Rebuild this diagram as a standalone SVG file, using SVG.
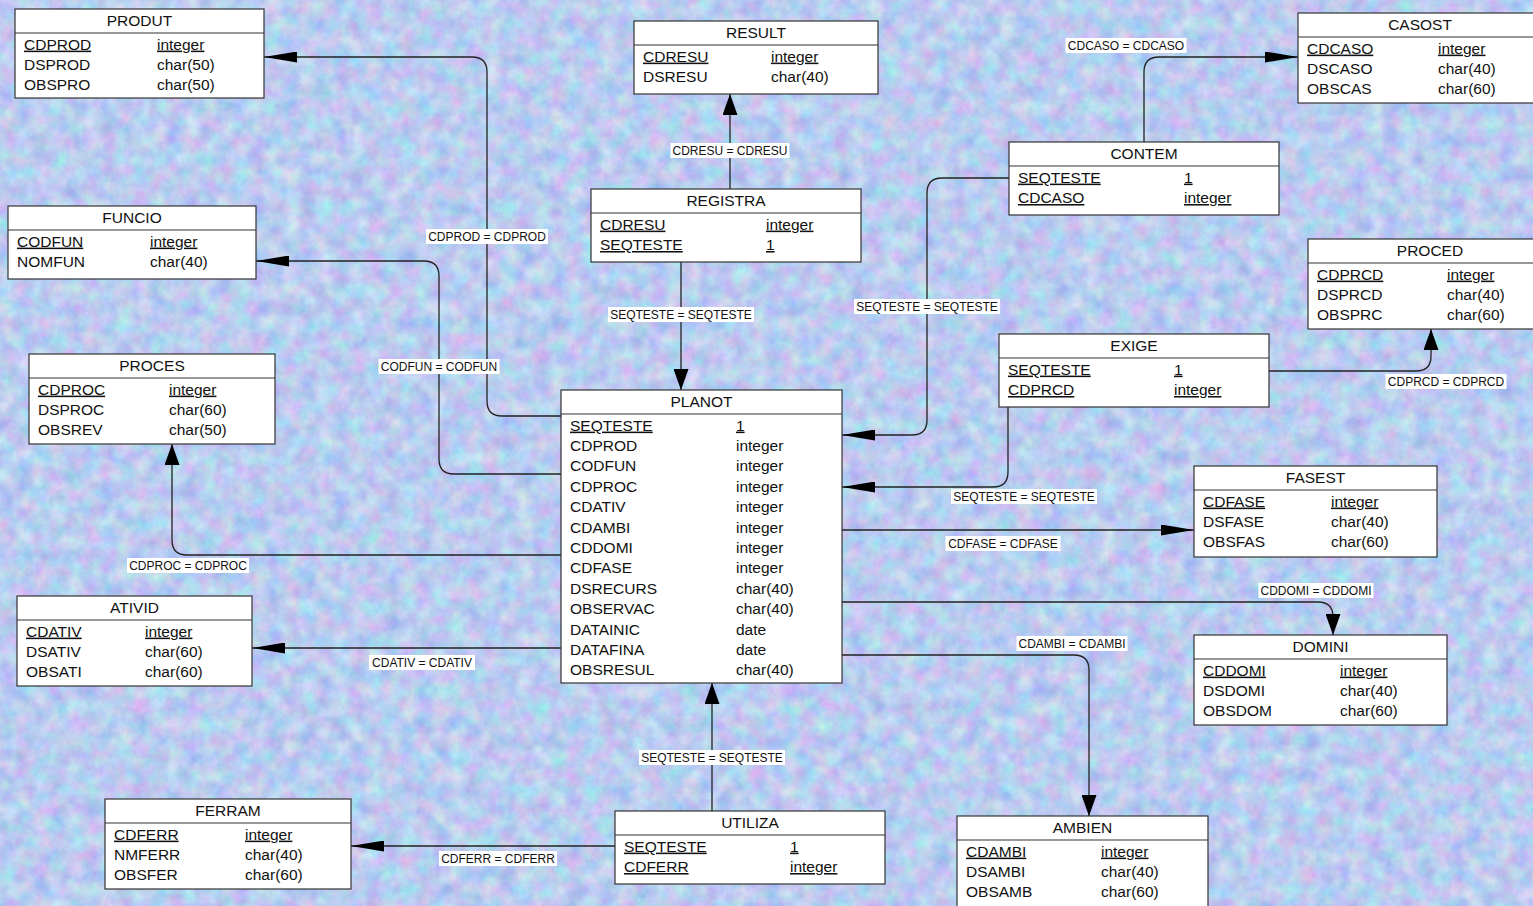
<svg xmlns="http://www.w3.org/2000/svg" width="1533" height="906" viewBox="0 0 1533 906">
<style>
.box{fill:#fff;stroke:#333;stroke-width:1.2}
.sep{stroke:#333;stroke-width:1.2}
.t{font-family:"Liberation Sans",Arial,sans-serif;font-size:15.5px;fill:#111}
.ttl{text-anchor:middle}
.pk{text-decoration:underline;text-decoration-thickness:2px}
.con{fill:none;stroke:#222;stroke-width:1.3}
.lb{fill:#fff}
.lt{font-family:"Liberation Sans",Arial,sans-serif;font-size:12px;fill:#111;text-anchor:middle}
</style>
<defs>
<filter id="tex" filterUnits="userSpaceOnUse" x="0" y="0" width="1533" height="906" color-interpolation-filters="sRGB">
<feTurbulence type="fractalNoise" baseFrequency="0.06" numOctaves="4" seed="7" result="n"/>
<feColorMatrix in="n" type="matrix" values="0.38 0 0 0 0.54  0 0.32 0 0 0.64  0 0 0.12 0 0.88  0 0 0 0 1"/>
</filter>
<marker id="ah" markerUnits="userSpaceOnUse" viewBox="0 0 33 11" markerWidth="33" markerHeight="11" refX="33" refY="5.5" orient="auto"><path d="M0,0 L33,5.5 L0,11 Z" fill="#000"/></marker>
<marker id="av" markerUnits="userSpaceOnUse" viewBox="0 0 21 15" markerWidth="21" markerHeight="15" refX="21" refY="7.5" orient="auto"><path d="M0,0 L21,7.5 L0,15 Z" fill="#000"/></marker>
</defs>
<rect x="0" y="0" width="1533" height="906" fill="#bac6ef"/>
<rect x="0" y="0" width="1533" height="906" filter="url(#tex)"/>

<g id="connectors">
<path class="con" d="M561,416 H502 Q487,416 487,401 V72 Q487,57 472,57 H264" marker-end="url(#ah)"/>
<path class="con" d="M561,474 H454 Q439,474 439,459 V276 Q439,261 424,261 H256" marker-end="url(#ah)"/>
<path class="con" d="M561,555 H187 Q172,555 172,540 V444" marker-end="url(#av)"/>
<path class="con" d="M561,648 H252" marker-end="url(#ah)"/>
<path class="con" d="M730,189 V94" marker-end="url(#av)"/>
<path class="con" d="M681,262 V390" marker-end="url(#av)"/>
<path class="con" d="M1144,142 V72 Q1144,57 1159,57 H1298" marker-end="url(#ah)"/>
<path class="con" d="M1009,178 H942 Q927,178 927,193 V420 Q927,435 912,435 H842" marker-end="url(#ah)"/>
<path class="con" d="M1008,407 V472 Q1008,487 993,487 H842" marker-end="url(#ah)"/>
<path class="con" d="M1269,371 H1416 Q1431,371 1431,356 V329" marker-end="url(#av)"/>
<path class="con" d="M842,530 H1194" marker-end="url(#ah)"/>
<path class="con" d="M842,602 H1318 Q1333,602 1333,617 V635" marker-end="url(#av)"/>
<path class="con" d="M842,655 H1074 Q1089,655 1089,670 V816" marker-end="url(#av)"/>
<path class="con" d="M712,811 V683" marker-end="url(#av)"/>
<path class="con" d="M615,846 H351" marker-end="url(#ah)"/>

<rect class="lb" x="426" y="229" width="122" height="15"/><text class="lt" x="487" y="240.5">CDPROD = CDPROD</text>
<rect class="lb" x="378.5" y="359" width="121" height="15"/><text class="lt" x="439" y="370.5">CODFUN = CODFUN</text>
<rect class="lb" x="127" y="558" width="122" height="15"/><text class="lt" x="188" y="569.5">CDPROC = CDPROC</text>
<rect class="lb" x="369" y="655" width="106" height="15"/><text class="lt" x="422" y="666.5">CDATIV = CDATIV</text>
<rect class="lb" x="670.5" y="143" width="119" height="15"/><text class="lt" x="730" y="154.5">CDRESU = CDRESU</text>
<rect class="lb" x="608" y="307" width="146" height="15"/><text class="lt" x="681" y="318.5">SEQTESTE = SEQTESTE</text>
<rect class="lb" x="1065.5" y="38" width="121" height="15"/><text class="lt" x="1126" y="49.5">CDCASO = CDCASO</text>
<rect class="lb" x="854" y="299" width="146" height="15"/><text class="lt" x="927" y="310.5">SEQTESTE = SEQTESTE</text>
<rect class="lb" x="951" y="489" width="146" height="15"/><text class="lt" x="1024" y="500.5">SEQTESTE = SEQTESTE</text>
<rect class="lb" x="1385.5" y="374" width="121" height="15"/><text class="lt" x="1446" y="385.5">CDPRCD = CDPRCD</text>
<rect class="lb" x="945.5" y="536" width="115" height="15"/><text class="lt" x="1003" y="547.5">CDFASE = CDFASE</text>
<rect class="lb" x="1258.5" y="583" width="115" height="15"/><text class="lt" x="1316" y="594.5">CDDOMI = CDDOMI</text>
<rect class="lb" x="1016.5" y="636" width="111" height="15"/><text class="lt" x="1072" y="647.5">CDAMBI = CDAMBI</text>
<rect class="lb" x="639" y="750" width="146" height="15"/><text class="lt" x="712" y="761.5">SEQTESTE = SEQTESTE</text>
<rect class="lb" x="439" y="851" width="118" height="15"/><text class="lt" x="498" y="862.5">CDFERR = CDFERR</text>
</g>

<g id="PRODUT" transform="translate(15,9)">
<rect class="box" width="249" height="89"/><line class="sep" x1="0" y1="24" x2="249" y2="24"/>
<text class="t ttl" x="124.5" y="17">PRODUT</text>
<text class="t pk" x="9" y="40.6">CDPROD</text><text class="t pk" x="142" y="40.6">integer</text>
<text class="t" x="9" y="61">DSPROD</text><text class="t" x="142" y="61">char(50)</text>
<text class="t" x="9" y="81.4">OBSPRO</text><text class="t" x="142" y="81.4">char(50)</text>
</g>

<g id="RESULT" transform="translate(634,21)">
<rect class="box" width="244" height="73"/><line class="sep" x1="0" y1="24" x2="244" y2="24"/>
<text class="t ttl" x="122" y="17">RESULT</text>
<text class="t pk" x="9" y="40.6">CDRESU</text><text class="t pk" x="137" y="40.6">integer</text>
<text class="t" x="9" y="61">DSRESU</text><text class="t" x="137" y="61">char(40)</text>
</g>

<g id="CASOST" transform="translate(1298,13)">
<rect class="box" width="244" height="90"/><line class="sep" x1="0" y1="24" x2="244" y2="24"/>
<text class="t ttl" x="122" y="17">CASOST</text>
<text class="t pk" x="9" y="40.6">CDCASO</text><text class="t pk" x="140" y="40.6">integer</text>
<text class="t" x="9" y="61">DSCASO</text><text class="t" x="140" y="61">char(40)</text>
<text class="t" x="9" y="81.4">OBSCAS</text><text class="t" x="140" y="81.4">char(60)</text>
</g>

<g id="FUNCIO" transform="translate(8,206)">
<rect class="box" width="248" height="73"/><line class="sep" x1="0" y1="24" x2="248" y2="24"/>
<text class="t ttl" x="124" y="17">FUNCIO</text>
<text class="t pk" x="9" y="40.6">CODFUN</text><text class="t pk" x="142" y="40.6">integer</text>
<text class="t" x="9" y="61">NOMFUN</text><text class="t" x="142" y="61">char(40)</text>
</g>

<g id="REGISTRA" transform="translate(591,189)">
<rect class="box" width="270" height="73"/><line class="sep" x1="0" y1="24" x2="270" y2="24"/>
<text class="t ttl" x="135" y="17">REGISTRA</text>
<text class="t pk" x="9" y="40.6">CDRESU</text><text class="t pk" x="175" y="40.6">integer</text>
<text class="t pk" x="9" y="61">SEQTESTE</text><text class="t pk" x="175" y="61">1</text>
</g>

<g id="CONTEM" transform="translate(1009,142)">
<rect class="box" width="270" height="73"/><line class="sep" x1="0" y1="24" x2="270" y2="24"/>
<text class="t ttl" x="135" y="17">CONTEM</text>
<text class="t pk" x="9" y="40.6">SEQTESTE</text><text class="t pk" x="175" y="40.6">1</text>
<text class="t pk" x="9" y="61">CDCASO</text><text class="t pk" x="175" y="61">integer</text>
</g>

<g id="PROCED" transform="translate(1308,239)">
<rect class="box" width="244" height="90"/><line class="sep" x1="0" y1="24" x2="244" y2="24"/>
<text class="t ttl" x="122" y="17">PROCED</text>
<text class="t pk" x="9" y="40.6">CDPRCD</text><text class="t pk" x="139" y="40.6">integer</text>
<text class="t" x="9" y="61">DSPRCD</text><text class="t" x="139" y="61">char(40)</text>
<text class="t" x="9" y="81.4">OBSPRC</text><text class="t" x="139" y="81.4">char(60)</text>
</g>

<g id="PROCES" transform="translate(29,354)">
<rect class="box" width="246" height="90"/><line class="sep" x1="0" y1="24" x2="246" y2="24"/>
<text class="t ttl" x="123" y="17">PROCES</text>
<text class="t pk" x="9" y="40.6">CDPROC</text><text class="t pk" x="140" y="40.6">integer</text>
<text class="t" x="9" y="61">DSPROC</text><text class="t" x="140" y="61">char(60)</text>
<text class="t" x="9" y="81.4">OBSREV</text><text class="t" x="140" y="81.4">char(50)</text>
</g>

<g id="EXIGE" transform="translate(999,334)">
<rect class="box" width="270" height="73"/><line class="sep" x1="0" y1="24" x2="270" y2="24"/>
<text class="t ttl" x="135" y="17">EXIGE</text>
<text class="t pk" x="9" y="40.6">SEQTESTE</text><text class="t pk" x="175" y="40.6">1</text>
<text class="t pk" x="9" y="61">CDPRCD</text><text class="t pk" x="175" y="61">integer</text>
</g>

<g id="PLANOT" transform="translate(561,390)">
<rect class="box" width="281" height="293"/><line class="sep" x1="0" y1="24" x2="281" y2="24"/>
<text class="t ttl" x="140.5" y="17">PLANOT</text>
<text class="t pk" x="9" y="40.6">SEQTESTE</text><text class="t pk" x="175" y="40.6">1</text>
<text class="t" x="9" y="61">CDPROD</text><text class="t" x="175" y="61">integer</text>
<text class="t" x="9" y="81.4">CODFUN</text><text class="t" x="175" y="81.4">integer</text>
<text class="t" x="9" y="101.8">CDPROC</text><text class="t" x="175" y="101.8">integer</text>
<text class="t" x="9" y="122.2">CDATIV</text><text class="t" x="175" y="122.2">integer</text>
<text class="t" x="9" y="142.6">CDAMBI</text><text class="t" x="175" y="142.6">integer</text>
<text class="t" x="9" y="163">CDDOMI</text><text class="t" x="175" y="163">integer</text>
<text class="t" x="9" y="183.4">CDFASE</text><text class="t" x="175" y="183.4">integer</text>
<text class="t" x="9" y="203.8">DSRECURS</text><text class="t" x="175" y="203.8">char(40)</text>
<text class="t" x="9" y="224.2">OBSERVAC</text><text class="t" x="175" y="224.2">char(40)</text>
<text class="t" x="9" y="244.6">DATAINIC</text><text class="t" x="175" y="244.6">date</text>
<text class="t" x="9" y="265">DATAFINA</text><text class="t" x="175" y="265">date</text>
<text class="t" x="9" y="285.4">OBSRESUL</text><text class="t" x="175" y="285.4">char(40)</text>
</g>

<g id="FASEST" transform="translate(1194,466)">
<rect class="box" width="243" height="91"/><line class="sep" x1="0" y1="24" x2="243" y2="24"/>
<text class="t ttl" x="121.5" y="17">FASEST</text>
<text class="t pk" x="9" y="40.6">CDFASE</text><text class="t pk" x="137" y="40.6">integer</text>
<text class="t" x="9" y="61">DSFASE</text><text class="t" x="137" y="61">char(40)</text>
<text class="t" x="9" y="81.4">OBSFAS</text><text class="t" x="137" y="81.4">char(60)</text>
</g>

<g id="ATIVID" transform="translate(17,596)">
<rect class="box" width="235" height="90"/><line class="sep" x1="0" y1="24" x2="235" y2="24"/>
<text class="t ttl" x="117.5" y="17">ATIVID</text>
<text class="t pk" x="9" y="40.6">CDATIV</text><text class="t pk" x="128" y="40.6">integer</text>
<text class="t" x="9" y="61">DSATIV</text><text class="t" x="128" y="61">char(60)</text>
<text class="t" x="9" y="81.4">OBSATI</text><text class="t" x="128" y="81.4">char(60)</text>
</g>

<g id="DOMINI" transform="translate(1194,635)">
<rect class="box" width="253" height="90"/><line class="sep" x1="0" y1="24" x2="253" y2="24"/>
<text class="t ttl" x="126.5" y="17">DOMINI</text>
<text class="t pk" x="9" y="40.6">CDDOMI</text><text class="t pk" x="146" y="40.6">integer</text>
<text class="t" x="9" y="61">DSDOMI</text><text class="t" x="146" y="61">char(40)</text>
<text class="t" x="9" y="81.4">OBSDOM</text><text class="t" x="146" y="81.4">char(60)</text>
</g>

<g id="FERRAM" transform="translate(105,799)">
<rect class="box" width="246" height="90"/><line class="sep" x1="0" y1="24" x2="246" y2="24"/>
<text class="t ttl" x="123" y="17">FERRAM</text>
<text class="t pk" x="9" y="40.6">CDFERR</text><text class="t pk" x="140" y="40.6">integer</text>
<text class="t" x="9" y="61">NMFERR</text><text class="t" x="140" y="61">char(40)</text>
<text class="t" x="9" y="81.4">OBSFER</text><text class="t" x="140" y="81.4">char(60)</text>
</g>

<g id="UTILIZA" transform="translate(615,811)">
<rect class="box" width="270" height="73"/><line class="sep" x1="0" y1="24" x2="270" y2="24"/>
<text class="t ttl" x="135" y="17">UTILIZA</text>
<text class="t pk" x="9" y="40.6">SEQTESTE</text><text class="t pk" x="175" y="40.6">1</text>
<text class="t pk" x="9" y="61">CDFERR</text><text class="t pk" x="175" y="61">integer</text>
</g>

<g id="AMBIEN" transform="translate(957,816)">
<rect class="box" width="251" height="100"/><line class="sep" x1="0" y1="24" x2="251" y2="24"/>
<text class="t ttl" x="125.5" y="17">AMBIEN</text>
<text class="t pk" x="9" y="40.6">CDAMBI</text><text class="t pk" x="144" y="40.6">integer</text>
<text class="t" x="9" y="61">DSAMBI</text><text class="t" x="144" y="61">char(40)</text>
<text class="t" x="9" y="81.4">OBSAMB</text><text class="t" x="144" y="81.4">char(60)</text>
</g>
</svg>
